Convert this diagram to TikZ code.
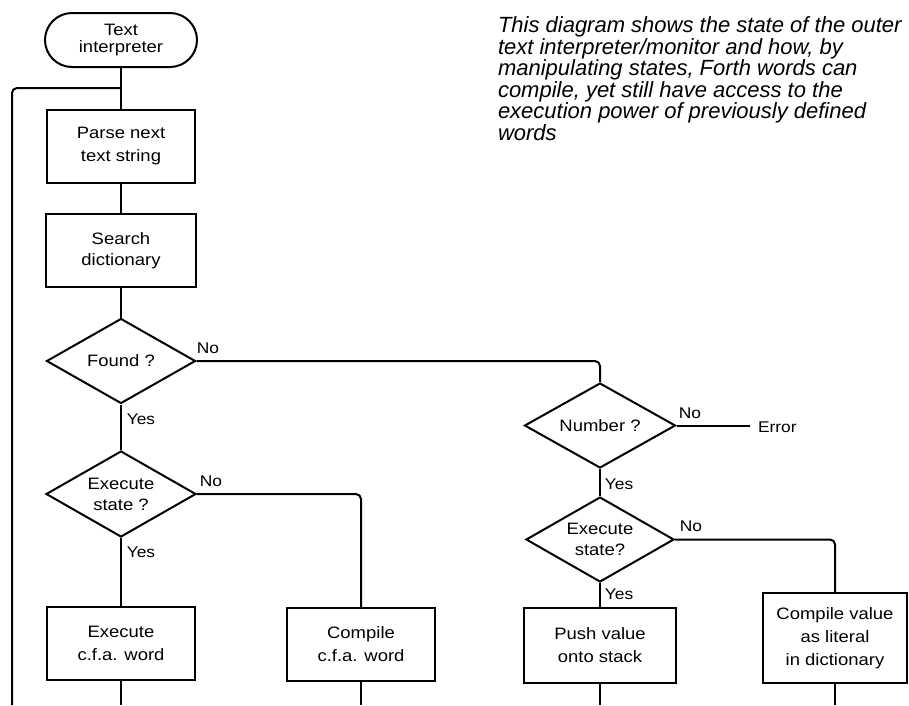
\documentclass[tikz,border=0pt]{standalone}
\usepackage{fontspec}
\setmainfont{Liberation Sans}
\newfontfamily\flowfont[FakeStretch=1.12]{Liberation Sans}
\usetikzlibrary{shapes.geometric}
\begin{document}
\begin{tikzpicture}[x=1pt,y=-1pt, line width=2pt,
  box/.style={draw, rectangle, inner sep=0pt, align=center, font=\flowfont\fontsize{16.5}{23}\selectfont},
  dia/.style={draw, diamond, inner sep=0pt},
  dtext/.style={align=center, inner sep=0pt, font=\flowfont\fontsize{16.5}{21}\selectfont},
  lab/.style={font=\flowfont\fontsize{15.5}{17}\selectfont, inner sep=0pt},
  conn/.style={line width=2pt, rounded corners=5pt}]
\useasboundingbox (0,0) rectangle (909,705);

% caption
\node[anchor=north west, align=left, inner sep=0pt,
      font=\fontsize{22}{20}\selectfont\itshape] (cap) at (497,16)
  {This diagram shows the state of the outer\\
   text interpreter/monitor and how, by\\
   manipulating states, Forth words can\\
   compile, yet still have access to the\\
   execution power of previously defined\\
   words};

% left column
\node[box, rounded corners=27pt, minimum width=152pt, minimum height=54pt,
      font=\flowfont\fontsize{16.5}{17}\selectfont] (start) at (121,40) {Text\\interpreter};
\node[box, minimum width=148pt, minimum height=73pt] (parse) at (121,146.5) {Parse next\\text string};
\node[box, minimum width=150pt, minimum height=73pt, font=\flowfont\fontsize{16.5}{21}\selectfont] (search) at (121,250.5) {Search\\dictionary};
\node[dia, minimum width=149pt, minimum height=85pt] (found) at (121,361) {};
\node[dtext] (foundt) at (found.center) {Found ?};
\node[dia, minimum width=150pt, minimum height=86pt] (exa) at (121,494) {};
\node[dtext] (exat) at (exa.center) {Execute\\state ?};
\node[box, minimum width=148pt, minimum height=73pt] (cfaa) at (121,643.5) {Execute\\c.f.a. word};
\node[box, minimum width=148pt, minimum height=73pt] (cfab) at (361,644.5) {Compile\\c.f.a. word};

% right column
\node[dia, minimum width=151pt, minimum height=85pt] (num) at (600,425.5) {};
\node[dtext] (numt) at (num.center) {Number ?};
\node[lab, anchor=west] (err) at (757,427) {Error};
\node[dia, minimum width=148pt, minimum height=85pt] (exb) at (600,539.5) {};
\node[dtext] (exbt) at (exb.center) {Execute\\state?};
\node[box, minimum width=152pt, minimum height=75pt] (push) at (600,645.5) {Push value\\onto stack};
\node[box, minimum width=144pt, minimum height=90pt] (lit) at (835,638) {Compile value\\as literal\\in dictionary};

% labels
\node[lab] (no1) at (208,348) {No};
\node[lab] (yes1) at (141,419) {Yes};
\node[lab] (no2) at (211,481) {No};
\node[lab] (yes2) at (141,552) {Yes};
\node[lab] (no3) at (690,413) {No};
\node[lab] (yes3) at (619,484) {Yes};
\node[lab] (no4) at (691,526) {No};
\node[lab] (yes4) at (619,594) {Yes};

% coordinates
\coordinate (j) at (121,88);
\coordinate (lb) at (12,705);
\coordinate (ea) at (121,705);
\coordinate (eb) at (361,705);
\coordinate (ec) at (600,705);
\coordinate (ed) at (835,705);
\coordinate (ee) at (750,427);

% connectors
\draw[conn] (start.south) -- (j) -- (parse.north);
\draw[conn] (lb) -- (lb |- j) -- (j);
\draw[conn] (parse.south) -- (search.north);
\draw[conn] (search.south) -- (found.north);
\draw[conn] (found.east) -- (found.east -| num.north) -- (num.north);
\draw[conn] (found.south) -- (exa.north);
\draw[conn] (exa.east) -- (exa.east -| cfab.north) -- (cfab.north);
\draw[conn] (exa.south) -- (cfaa.north);
\draw[conn] (cfaa.south) -- (ea);
\draw[conn] (cfab.south) -- (eb);
\draw[conn] (num.east) -- (num.east -| ee);
\draw[conn] (num.south) -- (exb.north);
\draw[conn] (exb.east) -- (exb.east -| lit.north) -- (lit.north);
\draw[conn] (exb.south) -- (push.north);
\draw[conn] (push.south) -- (ec);
\draw[conn] (lit.south) -- (ed);
\end{tikzpicture}
\end{document}
